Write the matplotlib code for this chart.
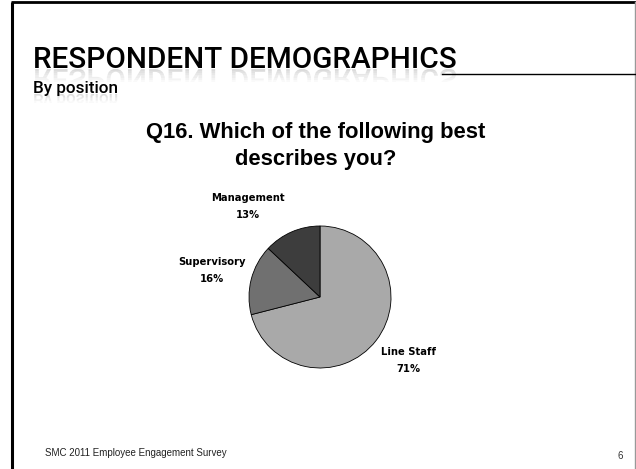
import matplotlib.pyplot as plt
from matplotlib.textpath import TextPath
from matplotlib.patches import PathPatch, Rectangle
from matplotlib.font_manager import FontProperties

# slide texts
slide_title = 'RESPONDENT DEMOGRAPHICS'
slide_subtitle = 'By position'
chart_title = 'Q16. Which of the following best\ndescribes you?'
footer = 'SMC 2011 Employee Engagement Survey'
page_no = '6'

# pie data
positions = ['Line Staff', 'Supervisory', 'Management']
shares = [71, 16, 13]
colors = ['#a9a9a9', '#707070', '#3d3d3d']

W, H = 636, 469
fig = plt.figure(figsize=(W / 100, H / 100), dpi=100)
fig.patch.set_facecolor('white')

# background axes in pixel units (y down)
bg = fig.add_axes([0, 0, 1, 1])
bg.set_xlim(0, W)
bg.set_ylim(H, 0)
bg.axis('off')

# slide frame
bg.plot([11.5, 11.5], [2, H], color='black', lw=2.2, solid_capstyle='butt')
bg.plot([10.5, W], [2.5, 2.5], color='black', lw=2.0, solid_capstyle='butt')
bg.plot([635, 635], [2, H], color='#999999', lw=1.0)
bg.plot([442, W], [74, 74], color='black', lw=1.0)

title_font = FontProperties(family='Roboto', weight='medium', size=21.4)
sub_font = FontProperties(family='Roboto', weight='medium', size=12.3)


def reflect(txt, x, y, fp, depth):
    # mirrored copy below the baseline (y axis is inverted so path flips),
    # drawn in thin bands that fade out
    tp = TextPath((x, y), txt, size=fp.get_size() * 100 / 72, prop=fp)
    nb = 6
    for i in range(nb):
        patch = PathPatch(tp, color='#b8b8b8', lw=0,
                          alpha=0.5 * (1 - i / nb))
        bg.add_patch(patch)
        band = Rectangle((0, y + i * depth / nb), W, depth / nb,
                         transform=bg.transData)
        patch.set_clip_path(band)


bg.text(33, 68, slide_title, fontproperties=title_font,
        color='black', va='baseline', ha='left')
reflect(slide_title, 33, 69, title_font, 13)

bg.text(33, 93, slide_subtitle, fontproperties=sub_font,
        color='black', va='baseline', ha='left')
reflect(slide_subtitle, 33, 94, sub_font, 9)

# chart title: baseline of the last line at y=165
bg.text(316, 165, chart_title, fontsize=15.8, fontweight='bold',
        family='Liberation Sans', ha='center', va='baseline',
        linespacing=1.4)

bg.text(45, 456, footer, fontsize=7, family='Liberation Sans',
        color='#222222', ha='left', va='baseline')
bg.text(617, 459, page_no, fontsize=7, family='Liberation Sans',
        color='#333333', ha='left', va='baseline')

# pie axes: centre (320, 297) px, radius 71 px
cx, cy, r = 320, 297, 71
ax = fig.add_axes([(cx - r) / W, (H - cy - r) / H, 2 * r / W, 2 * r / H])
ax.pie(shares, colors=colors, startangle=90, counterclock=False,
       wedgeprops=dict(edgecolor='black', linewidth=0.6))
ax.set_xlim(-1, 1)
ax.set_ylim(-1, 1)
ax.axis('off')

label_pos = [(1.24, -0.89), (-1.52, 0.37), (-1.01, 1.27)]
for name, val, (lx, ly) in zip(positions, shares, label_pos):
    ax.text(lx, ly, '%s\n%d%%' % (name, val), ha='center', va='center',
            fontsize=7.2, fontweight='bold', family='DejaVu Sans',
            linespacing=1.9, clip_on=False)

fig.savefig('out.png', dpi=100, facecolor='white')
